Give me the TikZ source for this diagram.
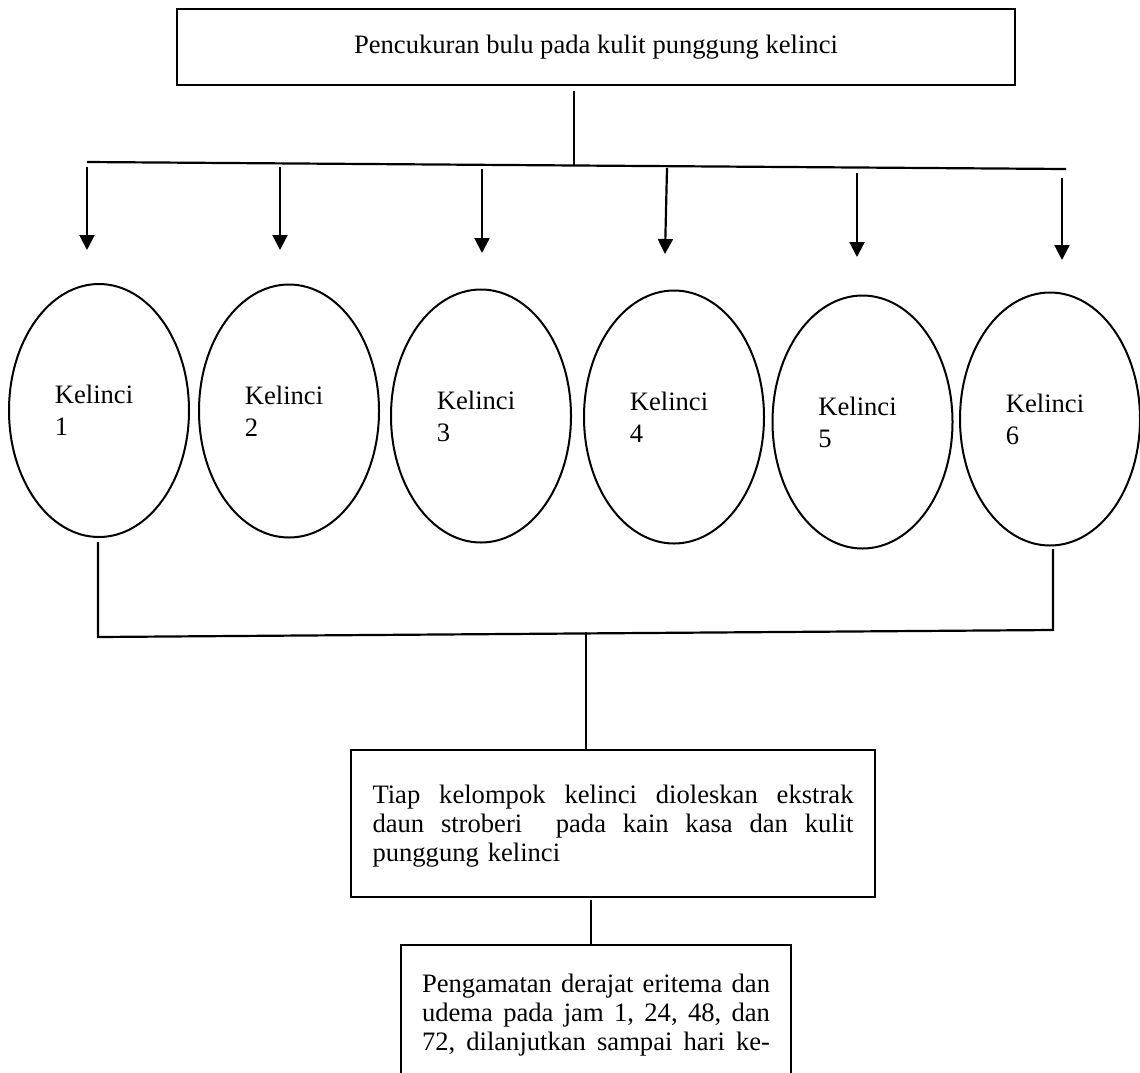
\documentclass[tikz,border=0pt]{standalone}
\usepackage{fontspec}
\setmainfont{Liberation Serif}
\usetikzlibrary{arrows.meta,shapes.geometric}
\newcommand\jline[2]{\leavevmode\hbox to #1{#2}}
\begin{document}
\begin{tikzpicture}[x=0.5pt,y=-0.5pt,
  every node/.style={font=\fontsize{13.3}{14.6}\selectfont},
  box/.style={draw, line width=1.1pt, rectangle, inner sep=0pt},
  rabbit/.style={draw, ellipse, line width=1pt, minimum width=90pt, minimum height=126.5pt,
                 inner sep=0pt, align=left, font=\fontsize{13.3}{16}\selectfont},
  conn/.style={line width=1.1pt},
  arr/.style={line width=1.1pt, -{Triangle[length=7.5pt,width=7.5pt]}}]
\clip (0,0) rectangle (1140,1072);

% top box
\node[box, minimum width=419pt, minimum height=38pt] (top) at (596,47)
  {Pencukuran bulu pada kulit punggung kelinci};

% distribution bar
\coordinate (t0) at (574,91);
\coordinate (tm) at (574,165.5);
\coordinate (bl) at (87,162);
\coordinate (br) at (1066,169);
\draw[conn] (t0) -- (tm);
\draw[conn] (bl) -- (br);

% arrows
\foreach \i/\xa/\ya/\xb/\yb in {1/87/167/87/250, 2/280/167/280/250, 3/482/169/482/253,
                                 4/667/168/665/254, 5/857/173/857/257, 6/1062/178/1062/260}{
  \coordinate (s\i) at (\xa,\ya);
  \coordinate (p\i) at (\xb,\yb);
  \draw[arr] (s\i) -- (p\i);
}

% ellipses
\node[rabbit] (e1) at (99,410.5) {Kelinci\hspace*{5pt}\\1};
\node[rabbit] (e2) at (289,411) {Kelinci\hspace*{5pt}\\2};
\node[rabbit] (e3) at (481,416) {Kelinci\hspace*{5pt}\\3};
\node[rabbit] (e4) at (674,417) {Kelinci\hspace*{5pt}\\4};
\node[rabbit] (e5) at (862.5,422) {Kelinci\hspace*{5pt}\\5};
\node[rabbit] (e6) at (1050,419) {Kelinci\hspace*{5pt}\\6};

% collecting bar
\coordinate (l1) at (98,542);
\coordinate (l2) at (98,637);
\coordinate (r1) at (1053,549);
\coordinate (r2) at (1053,630);
\draw[conn] (l1) -- (l2) -- (r2) -- (r1);

% middle box
\node[box, minimum width=262pt, minimum height=73.5pt, text width=240.5pt, align=left] (mid) at (613,823.5)
  {\jline{240.5pt}{\rule{0pt}{11.8pt}Tiap\hfill kelompok\hfill kelinci\hfill dioleskan\hfill ekstrak}\\
   \jline{240.5pt}{daun\hfill stroberi\hfill\hfill pada\hfill kain\hfill kasa\hfill dan\hfill kulit}\\
   punggung kelinci};
\coordinate (m0) at (586,632);
\draw[conn] (m0) -- (m0 |- mid.north);

% bottom box
\node[box, minimum width=195pt, minimum height=70pt, text width=174pt, align=left] (bot) at (596,1015)
  {\jline{174pt}{Pengamatan\hfill derajat\hfill eritema\hfill dan}\\
   \jline{174pt}{udema\hfill pada\hfill jam\hfill 1,\hfill 24,\hfill 48,\hfill dan}\\
   \jline{174pt}{72,\hfill dilanjutkan\hfill sampai\hfill hari\hfill ke-}};
\coordinate (q0) at (591,900);
\draw[conn] (q0) -- (q0 |- bot.north);
\end{tikzpicture}
\end{document}
